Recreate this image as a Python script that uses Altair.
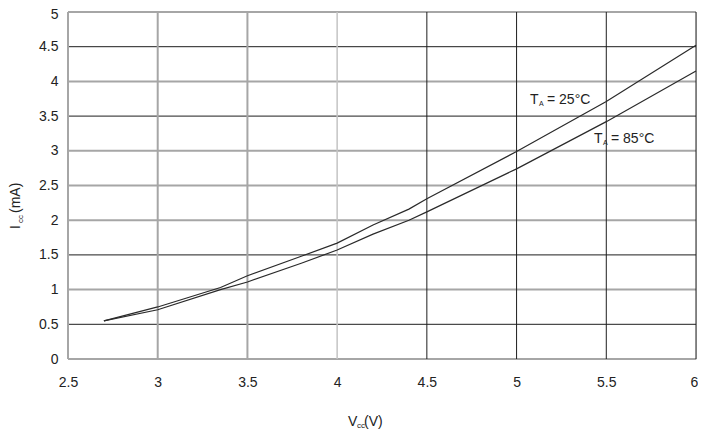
import altair as alt
import pandas as pd

# ---- data ----
vcc = [2.7, 3.0, 3.35, 3.5, 3.8, 4.0, 4.2, 4.4, 4.5, 5.0, 5.5, 6.0]
icc_25 = [0.55, 0.75, 1.03, 1.20, 1.48, 1.67, 1.93, 2.16, 2.31, 2.99, 3.71, 4.52]
icc_85 = [0.55, 0.71, 1.00, 1.11, 1.38, 1.57, 1.80, 2.00, 2.12, 2.74, 3.42, 4.15]
series = ["25", "85"]

x_ticks = [2.5, 3, 3.5, 4, 4.5, 5, 5.5, 6]
y_ticks = [0, 0.5, 1, 1.5, 2, 2.5, 3, 3.5, 4, 4.5, 5]
x_grid_kind = ["gray", "gray", "gray", "light", "black", "black", "black", "black"]
y_grid_kind = ["gray", "black", "gray", "black", "gray", "gray", "gray", "black", "gray", "black", "gray"]

# ---- styles ----
STYLE = {"gray": ("#a6a6a6", 2.0), "light": ("#c4c4c4", 1.5), "black": ("#1e1e1e", 1.0)}
FONT = "Liberation Sans"
W, H = 628, 347

curves = pd.DataFrame(
    {"vcc": vcc * 2, "icc": icc_25 + icc_85, "series": [series[0]] * len(vcc) + [series[1]] * len(vcc)}
)
vgrid = pd.DataFrame({"v": x_ticks, "c": [STYLE[k][0] for k in x_grid_kind], "w": [STYLE[k][1] for k in x_grid_kind]})
hgrid = pd.DataFrame({"v": y_ticks, "c": [STYLE[k][0] for k in y_grid_kind], "w": [STYLE[k][1] for k in y_grid_kind]})

xscale = alt.Scale(domain=[2.5, 6], nice=False, zero=False)
yscale = alt.Scale(domain=[0, 5], nice=False, zero=True)

base_axis = dict(domain=False, ticks=False, grid=False, labelFont=FONT, labelFontSize=14,
                 labelColor="#222222", title=None, format="~g", labelOverlap=False,
                 labelBound=False, labelFlush=False)

x_axis = alt.Axis(values=x_ticks, labelPadding=16,
                  labelOffset=alt.ExprRef(expr="datum.value == 6 ? -2 : 0"), **base_axis)
y_axis = alt.Axis(values=y_ticks, labelPadding=10,
                  labelOffset=alt.ExprRef(expr="datum.value == 5 ? 2 : 0"), **base_axis)

vrules = alt.Chart(vgrid).mark_rule().encode(
    x=alt.X("v:Q", scale=xscale, axis=x_axis),
    color=alt.Color("c:N", scale=None),
    strokeWidth=alt.StrokeWidth("w:Q", scale=None),
)
hrules = alt.Chart(hgrid).mark_rule().encode(
    y=alt.Y("v:Q", scale=yscale, axis=y_axis),
    color=alt.Color("c:N", scale=None),
    strokeWidth=alt.StrokeWidth("w:Q", scale=None),
)

lines = alt.Chart(curves).mark_line(color="#2a2a2a", strokeWidth=1.2).encode(
    x=alt.X("vcc:Q", scale=xscale, axis=x_axis),
    y=alt.Y("icc:Q", scale=yscale, axis=y_axis),
    detail="series:N",
)

one = alt.Data(values=[{"a": 1}])


def txt(text, x, y, size=14, angle=0, align="left"):
    kw = dict(text=text, font=FONT, fontSize=size, color="#222222", align=align, baseline="alphabetic")
    if angle:
        kw["angle"] = angle
    return alt.Chart(one).mark_text(**kw).encode(x=alt.value(x), y=alt.value(y))


OX, OY = 68, 12  # plot origin on page
labels = [
    # T_A = 25°C
    txt("T", 530 - OX, 104 - OY),
    txt("A", 539 - OX, 106 - OY, size=7),
    txt("= 25°C", 547 - OX, 104 - OY),
    # T_A = 85°C
    txt("T", 594 - OX, 143 - OY),
    txt("A", 603 - OX, 145 - OY, size=7),
    txt("= 85°C", 611 - OX, 143 - OY),
    # x title V_cc(V)
    txt("V", 348 - OX, 426 - OY),
    txt("cc", 357 - OX, 428 - OY, size=8),
    txt("(V)", 364 - OX, 426 - OY),
    # y title I_cc(mA)
    txt("I", 20 - OX, 229 - OY, angle=270),
    txt("cc", 23 - OX, 223 - OY, size=8, angle=270),
    txt("(mA)", 20 - OX, 213 - OY, angle=270),
]

chart = alt.layer(hrules, vrules, lines, *labels).properties(
    width=W, height=H,
    autosize=alt.AutoSizeParams(type="none"),
    padding={"left": 60, "top": 4, "right": 2, "bottom": 72},
).configure_view(stroke=None).configure(background="white")

chart.save("out.html", embed_options={"renderer": "svg", "actions": False})
